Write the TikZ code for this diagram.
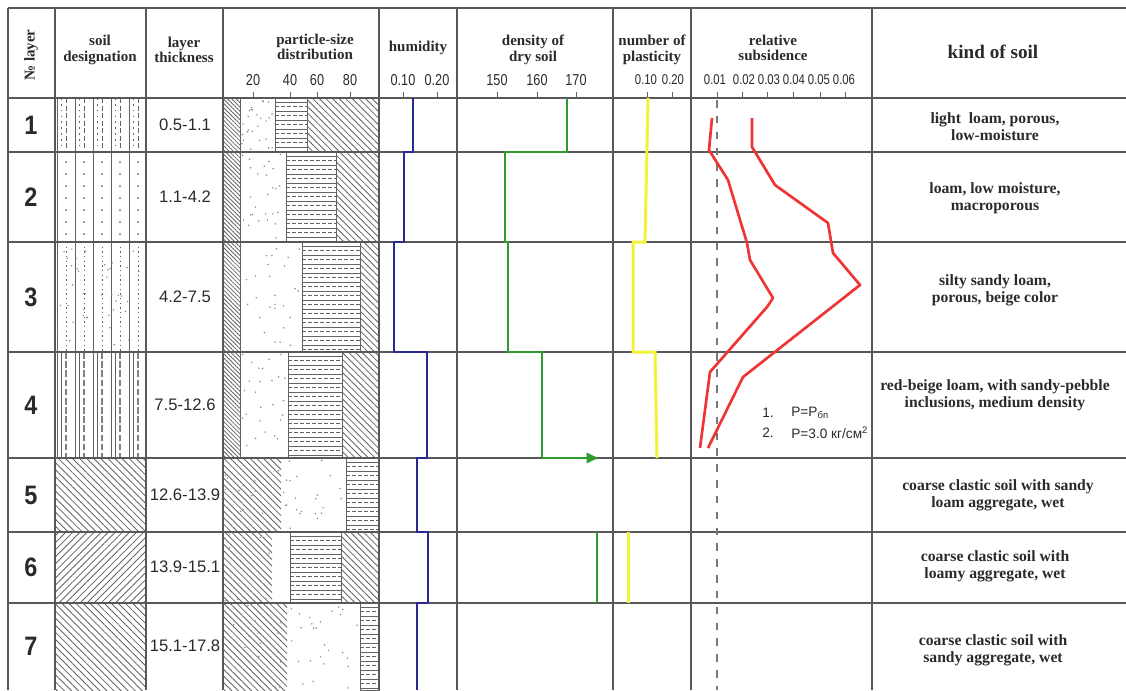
\documentclass[tikz,border=0pt]{standalone}
\usepackage{fontspec}
\setmainfont{Liberation Serif}
\newfontfamily\arial{Liberation Sans}
\newfontfamily\arialn[FakeStretch=0.8]{Liberation Sans}
\newfontfamily\arialc[FakeStretch=0.88]{Liberation Sans}
\usetikzlibrary{patterns.meta,arrows.meta}

\definecolor{gridgray}{HTML}{585858}
\definecolor{hatchgray}{HTML}{626262}
\definecolor{txtgray}{HTML}{2A2A2A}
\definecolor{humblue}{HTML}{2A2A96}
\definecolor{densgreen}{HTML}{2F9A2F}
\definecolor{plastyellow}{HTML}{F2F23C}
\definecolor{subsred}{HTML}{EE3434}

\tikzset{
  tline/.style={draw=gridgray,line width=1.3pt},
  thinline/.style={draw=hatchgray,line width=0.45pt},
  hatchA/.style={pattern={Lines[angle=-45,distance=1.8pt,line width=0.5pt]},pattern color=hatchgray},
  hatchD/.style={pattern={Lines[angle=-45,distance=2.8pt,line width=0.5pt]},pattern color=hatchgray},
  soilL/.style={pattern={Lines[angle=-45,distance=3pt,line width=0.5pt]},pattern color=hatchgray},
  soilR/.style={pattern={Lines[angle=45,distance=3pt,line width=0.5pt]},pattern color=hatchgray},
  head/.style={font=\fontsize{9}{9.4}\selectfont\bfseries,align=center,text=txtgray},
  ticklab/.style={font=\arialn\fontsize{9.5}{9.5}\selectfont,text=txtgray},
  rownum/.style={font=\arialc\fontsize{16}{16}\selectfont\bfseries,text=txtgray},
  layerthk/.style={font=\arial\fontsize{10}{10}\selectfont,text=txtgray},
  kind/.style={font=\fontsize{9.4}{10.2}\selectfont\bfseries,align=center,text=txtgray},
  legtext/.style={font=\arial\fontsize{8.2}{8.2}\selectfont,text=txtgray,inner sep=0pt,anchor=west},
  humline/.style={draw=humblue,line width=1.3pt},
  densline/.style={draw=densgreen,line width=1.5pt},
  plastline/.style={draw=plastyellow,line width=1.8pt},
  subsline/.style={draw=subsred,line width=1.6pt,line join=round},
}

% horizontal bands: solid and dashed lines in turn (x1,y1,x2,y2)
\newcommand{\hbands}[4]{%
  \begin{scope}
    \clip (#1,#2) rectangle (#3,#4);
    \foreach \k in {0,...,12} {
      \draw[thinline] (#1,#2+4+9*\k) -- (#3,#2+4+9*\k);
      \draw[thinline,dash pattern=on 2.2pt off 1.4pt] (#1,#2+8.5+9*\k) -- (#3,#2+8.5+9*\k);
    }
  \end{scope}
  \draw[thinline] (#1,#2) rectangle (#3,#4);
}
% scattered sand dots (x1,y1,x2,y2,count)
\newcommand{\speckle}[5]{%
  \foreach \k in {1,...,#5} {
    \pgfmathsetmacro\px{#1+2+rnd*(#3-#1-4)}
    \pgfmathsetmacro\py{#2+2+rnd*(#4-#2-4)}
    \fill[hatchgray!75] (\px,\py) circle (0.5pt);
  }
}

\begin{document}
\begin{tikzpicture}[x=0.6pt,y=-0.6pt]
\useasboundingbox (0,0) rectangle (1126,690);
\pgfmathsetseed{11}

% soil designation
\begin{scope}
\clip (55,98) rectangle (146,458);
\foreach \x in {57,75,...,147} \draw[thinline] (\x,98) -- (\x,458);
\foreach \x in {66,84,...,147} \draw[thinline,dash pattern=on 3pt off 1.5pt] (\x,98) -- (\x,152);
\foreach \x in {61,79,...,147} \draw[thinline,dash pattern=on 1pt off 2.5pt] (\x,98) -- (\x,152);
\foreach \x in {66,84,...,138} \foreach \y in {162,174,...,236} \fill[hatchgray] (\x,\y) circle (0.6pt);
\foreach \x in {66,84,...,147} \draw[thinline,dash pattern=on 0.8pt off 2pt] (\x,242) -- (\x,352);
\speckle{55}{242}{146}{352}{40}
\foreach \x in {66,84,...,147} \draw[draw=hatchgray!80,line width=0.9pt,dash pattern=on 4pt off 1.5pt] (\x,352) -- (\x,458);
\foreach \x in {61,79,...,147} \draw[thinline] (\x,352) -- (\x,458);
\end{scope}
\path[soilL] (55,458) rectangle (146,532);
\path[soilR] (55,532) rectangle (146,603);
\path[soilL] (55,603) rectangle (146,690);

% particle-size distribution
\foreach \ya/\yb/\xb/\xc in {98/152/275/307,152/242/286/336,242/352/302/360,352/458/288/342} {
  \path[hatchA] (223,\ya) rectangle (240,\yb);
  \draw[thinline] (240,\ya) -- (240,\yb);
  \speckle{240}{\ya}{\xb}{\yb}{26}
  \hbands{\xb}{\ya}{\xc}{\yb}
  \path[hatchD] (\xc,\ya) rectangle (379,\yb);
}
\path[hatchD] (223,458) rectangle (281,532);
\speckle{223}{458}{281}{532}{14}
\speckle{281}{458}{346}{532}{22}
\hbands{346}{458}{379}{532}
\path[hatchD] (223,532) rectangle (272,603);
\speckle{223}{532}{272}{603}{12}
\hbands{290}{532}{341}{603}
\path[hatchD] (341,532) rectangle (379,603);
\path[hatchD] (223,603) rectangle (287,690);
\speckle{223}{603}{287}{690}{16}
\speckle{287}{603}{360}{690}{26}
\hbands{360}{603}{379}{690}

% table
\foreach \y in {8,152,242,352,458,532,603} \draw[tline] (8,\y) -- (1126,\y);
\draw[tline,line width=1.6pt] (8,98) -- (1126,98);
\foreach \x in {8,55,146,223,379,457,613,691,872} \draw[tline] (\x,8) -- (\x,690);
\foreach \x in {253,290,317,350,403,437,497,537,576,647,672,717,742,767,793,820,845}
  \draw[thinline] (\x,92) -- (\x,98);

% header
\node[head,rotate=90] (hNum) at (31,55) {№ layer};
\node[head] (hSoil) at (100,50) {soil\\designation};
\node[head] (hThk) at (184,50) {layer\\thickness};
\node[head] (hPart) at (315,47) {particle-size\\distribution};
\node[head] (hHum) at (418,48) {humidity};
\node[head] (hDens) at (533,50) {density of\\dry soil};
\node[head] (hPlast) at (652,50) {number of\\plasticity};
\node[head] (hSubs) at (773,48) {relative\\subsidence};
\node[head,font=\fontsize{11.5}{12}\selectfont\bfseries] (hKind) at (993,52) {kind of soil};
\foreach \x/\v in {253/20,290/40,317/60,350/80,403/0.10,437/0.20,497/150,537/160,576/170}
  \node[ticklab] (tk\x) at (\x,80) {\v};
\foreach \x/\v in {646/0.10,673/0.20,715/0.01,744/0.02,769/0.03,794/0.04,819/0.05,844/0.06}
  \node[ticklab,font=\arialn\fontsize{8.5}{8.5}\selectfont] (ts\x) at (\x,80) {\v};

% rows
\foreach \n/\y/\t in {1/125/0.5-1.1,2/197/1.1-4.2,3/297/4.2-7.5,4/405/7.5-12.6,5/495/12.6-13.9,6/567/13.9-15.1,7/646/15.1-17.8} {
  \node[rownum] (n\n) at (31,\y) {\n};
  \node[layerthk] (t\n) at (185,\y) {\t};
}
\node[kind] (k1) at (995,127) {light\ \ loam, porous,\\low-moisture};
\node[kind] (k2) at (995,198) {loam, low moisture,\\macroporous};
\node[kind] (k3) at (995,290) {silty sandy loam,\\porous, beige color};
\node[kind] (k4) at (995,395) {red-beige loam, with sandy-pebble\\inclusions, medium density};
\node[kind] (k5) at (998,495) {coarse clastic soil with sandy\\loam aggregate, wet};
\node[kind] (k6) at (995,566) {coarse clastic soil with\\loamy aggregate, wet};
\node[kind] (k7) at (993,650) {coarse clastic soil with\\sandy aggregate, wet};

% humidity
\draw[humline] (413,98) -- (413,152) -- (404,152) -- (404,242) -- (394,242) -- (394,352)
  -- (427,352) -- (427,458) -- (417,458) -- (417,532) -- (428,532) -- (428,603) -- (417,603) -- (417,690);
% density of dry soil
\draw[densline] (567,98) -- (567,152) -- (505,152) -- (505,242) -- (508,242) -- (508,352)
  -- (542,352) -- (542,458);
\draw[densline,-{Latex[length=8pt,width=7pt]}] (542,458) -- (600,458);
\draw[densline,line width=1pt] (597,532) -- (597,603);
% number of plasticity
\draw[plastline] (648,98) -- (645,242) -- (633,242) -- (633,352) -- (655,352) -- (657,458);
\draw[plastline] (628,532) -- (628,603);
% relative subsidence
\draw[gridgray!80,line width=0.8pt,dash pattern=on 4.5pt off 5pt] (717,100) -- (717,690);
\draw[subsline] (712,118) -- (709,150) -- (728,180) -- (747,243) -- (750,260) -- (773,298)
  -- (767,307) -- (710,372) -- (700,448);
\draw[subsline] (752,118) -- (752,147) -- (775,185) -- (828,223) -- (833,253) -- (860,285)
  -- (743,377) -- (708,448);
\node[legtext] (lg1n) at (762,413) {1.};
\node[legtext] (lg1) at (791,413) {P=P\textsubscript{бп}};
\node[legtext] (lg2n) at (762,433) {2.};
\node[legtext] (lg2) at (791,433) {P=3.0 кг/см\textsuperscript{2}};
\end{tikzpicture}
\end{document}
